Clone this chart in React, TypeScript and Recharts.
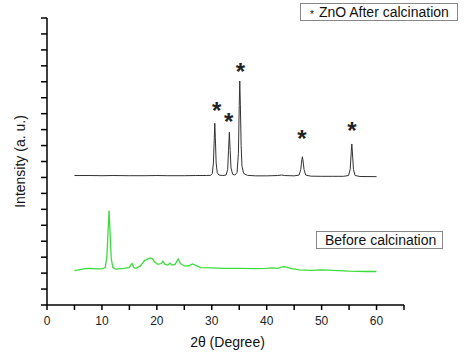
import React from 'react';
import { ComposedChart, Line, Scatter, XAxis, YAxis } from 'recharts';

// 2θ positions and intensities (arbitrary units, offset trace)
const afterX = [5, 8, 10, 12, 15, 18, 20, 22, 25, 27, 29, 29.8, 30.1, 30.3, 30.45, 30.55, 30.65, 30.8, 31.0, 31.3, 32, 32.6, 32.9, 33.05, 33.2, 33.35, 33.5, 33.8, 34.2, 34.6, 34.85, 35.0, 35.1, 35.2, 35.35, 35.5, 35.8, 36.5, 38, 40, 42, 42.7, 43.2, 45, 45.9, 46.2, 46.4, 46.5, 46.6, 46.8, 47.1, 48, 50, 52, 54, 54.9, 55.2, 55.4, 55.5, 55.6, 55.8, 56.1, 57, 60];
const afterY = [8.12, 8.12, 8.11, 8.12, 8.11, 8.11, 8.12, 8.11, 8.11, 8.12, 8.12, 8.13, 8.25, 8.9, 10.4, 11.4, 10.5, 8.9, 8.3, 8.15, 8.12, 8.15, 8.5, 9.7, 10.83, 9.7, 8.6, 8.2, 8.15, 8.3, 9.5, 12.5, 14.05, 12.6, 10.0, 8.7, 8.25, 8.13, 8.1, 8.1, 8.12, 8.15, 8.12, 8.1, 8.15, 8.5, 9.1, 9.3, 9.1, 8.5, 8.15, 8.08, 8.07, 8.07, 8.07, 8.12, 8.5, 9.6, 10.1, 9.6, 8.5, 8.12, 8.06, 8.05];

const beforeX = [5, 6, 7, 8, 9, 10, 10.6, 10.9, 11.1, 11.3, 11.5, 11.7, 12, 12.5, 13, 14, 15, 15.3, 15.5, 15.8, 16.2, 17, 17.8, 18.3, 18.8, 19.2, 19.6, 20.2, 20.8, 21.1, 21.5, 22, 22.4, 22.8, 23.3, 23.9, 24.3, 25, 25.8, 26.5, 27, 28, 30, 32, 35, 38, 40, 41, 42, 43, 43.6, 44.5, 46, 48, 50, 52, 55, 58, 60];
const beforeY = [2.15, 2.22, 2.28, 2.3, 2.27, 2.27, 2.35, 3.0, 4.5, 5.92, 4.4, 2.9, 2.35, 2.25, 2.27, 2.3, 2.35, 2.55, 2.6, 2.35, 2.3, 2.45, 2.8, 2.88, 2.95, 2.9, 2.7, 2.55, 2.6, 2.75, 2.55, 2.5, 2.62, 2.5, 2.55, 2.88, 2.6, 2.45, 2.45, 2.58, 2.5, 2.35, 2.33, 2.3, 2.3, 2.28, 2.3, 2.33, 2.3, 2.4, 2.38, 2.28, 2.2, 2.17, 2.2, 2.17, 2.12, 2.1, 2.1];

// ZnO reflection markers
const starX = [30.9, 33.1, 35.2, 46.4, 55.5];
const starY = [12.48, 11.77, 14.95, 10.7, 11.23];

const xTicks = [0, 5, 10, 15, 20, 25, 30, 35, 40, 45, 50, 55, 60, 65];
const yTicks = [0, 1, 2, 3, 4, 5, 6, 7, 8, 9, 10, 11, 12, 13, 14, 15, 16, 17, 18];

const afterData = afterX.map((x, i) => ({ x, y: afterY[i] }));
const beforeData = beforeX.map((x, i) => ({ x, y: beforeY[i] }));
const starData = starX.map((x, i) => ({ x, y: starY[i] }));

const FONT = '"Liberation Sans", Arial, sans-serif';

const StarShape = (props: any) => {
  const { cx, cy } = props;
  return (
    <text x={cx} y={cy + 13} textAnchor="middle" fontSize={24} fontWeight="bold" fontFamily={FONT} fill="#222">
      *
    </text>
  );
};

const boxStyle: React.CSSProperties = {
  position: 'absolute',
  boxSizing: 'border-box',
  border: '1px solid #888',
  background: '#fff',
  fontFamily: FONT,
  fontSize: 14,
  color: '#111',
  display: 'flex',
  alignItems: 'center',
  whiteSpace: 'nowrap',
  lineHeight: '14px',
};

export default function App() {
  return (
    <div style={{ position: 'absolute', left: 0, top: 0, width: 474, height: 362, background: '#fff' }}>
      <ComposedChart width={474} height={362} margin={{ top: 18, right: 70, bottom: 56, left: 46 }}>
        <XAxis
          dataKey="x"
          type="number"
          domain={[0, 65]}
          ticks={xTicks}
          interval={0}
          height={1}
          allowDuplicatedCategory={false}
          tickFormatter={(v: number) => (v % 10 === 0 && v <= 60 ? String(v) : '')}
          tickSize={5}
          tickMargin={6}
          axisLine={{ stroke: '#000', strokeWidth: 1.5 }}
          tickLine={{ stroke: '#000', strokeWidth: 1.5 }}
          tick={{ fill: '#222', fontSize: 12, fontFamily: FONT }}
          label={{ value: '2θ (Degree)', position: 'center', dy: 37, dx: 2, fontSize: 14, fontFamily: FONT, fill: '#111' }}
        />
        <YAxis
          dataKey="y"
          type="number"
          domain={[0, 18]}
          ticks={yTicks}
          interval={0}
          width={1}
          tickFormatter={() => ''}
          tickSize={6}
          axisLine={{ stroke: '#000', strokeWidth: 1.5 }}
          tickLine={{ stroke: '#000', strokeWidth: 1.5 }}
          label={{ value: 'Intensity (a. u.)', angle: -90, position: 'center', dx: -26, fontSize: 14, fontFamily: FONT, fill: '#111' }}
        />
        <Line data={afterData} dataKey="y" type="linear" stroke="#333" strokeWidth={1} dot={false} isAnimationActive={false} />
        <Line data={beforeData} dataKey="y" type="linear" stroke="#3ddc3d" strokeWidth={1.3} dot={false} isAnimationActive={false} />
        <Scatter data={starData} dataKey="y" shape={StarShape} isAnimationActive={false} />
      </ComposedChart>
      <div style={{ ...boxStyle, left: 300, top: 3, width: 158, height: 18, paddingLeft: 9 }}>
        <span style={{ fontSize: 10, marginRight: 5, position: 'relative', top: 3 }}>*</span>ZnO After calcination
      </div>
      <div style={{ ...boxStyle, left: 316, top: 231, width: 127, height: 18, paddingLeft: 8 }}>Before calcination</div>
    </div>
  );
}
